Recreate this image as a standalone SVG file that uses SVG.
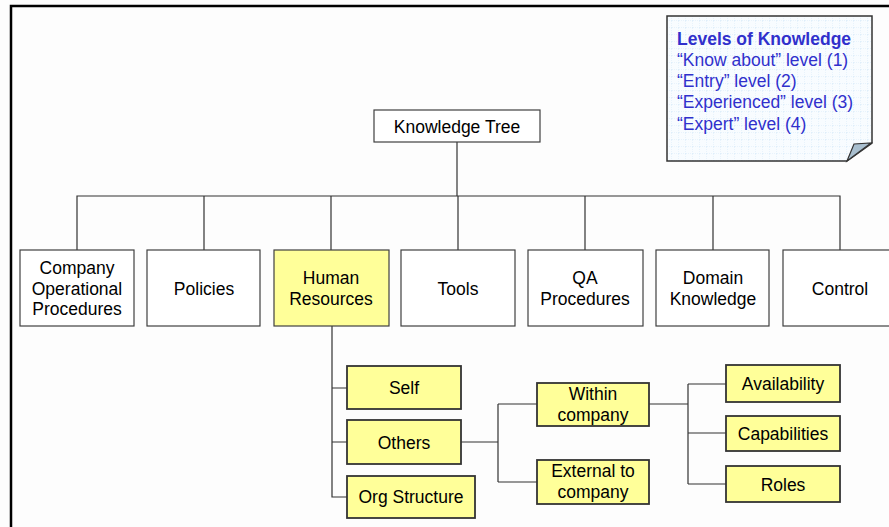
<svg xmlns="http://www.w3.org/2000/svg" width="889" height="527" viewBox="0 0 889 527">
  <style>
    .box { fill: #ffffff; stroke: #404040; stroke-width: 1.2; }
    .hi { fill: #ffff99; stroke: #404040; stroke-width: 1.2; }
    .sub { fill: #ffff99; stroke: #333333; stroke-width: 1.8; }
    .lbl { font-family: "Liberation Sans", Arial, sans-serif; font-size: 17.5px; fill: #000000; text-anchor: middle; }
    .conn { fill: none; stroke: #333333; stroke-width: 1.2; }
    .leg { font-family: "Liberation Sans", Arial, sans-serif; font-size: 17.5px; fill: #3030cc; }
  </style>
  <defs>
    <pattern id="grid" width="7" height="7" patternUnits="userSpaceOnUse">
      <rect width="7" height="7" fill="#f8fcff"/>
      <path d="M7 0 V7 M0 7 H7" fill="none" stroke="#cfe6f7" stroke-width="0.8" stroke-dasharray="1 1"/>
    </pattern>
  </defs>

  <rect width="889" height="527" fill="#fdfdfd"/>
  <!-- frame -->
  <path d="M11 527 V6 H889" fill="none" stroke="#000000" stroke-width="2.5"/>

  <!-- connectors -->
  <g id="connectors" class="conn">
    <path d="M457 142 V196"/>
    <path d="M77 250 V196 H840 V250"/>
    <path d="M204 196 V250 M331 196 V250 M458 196 V250 M585 196 V250 M713 196 V250"/>
    <path d="M332 326 V497 H347 M332 388 H347 M332 442 H347"/>
    <path d="M461 442 H498 M498 404 V482 M498 404 H537 M498 482 H537"/>
    <path d="M649 404 H688 M688 384 V484 M688 384 H726 M688 433 H726 M688 484 H726"/>
  </g>

  <!-- legend -->
  <g id="legend">
    <path d="M667 16 H872 V143 L847 161 H667 Z" fill="url(#grid)" stroke="#333333" stroke-width="1.5"/>
    <path d="M847 161 L854 144 L871 143 Z" fill="#a9bfcf" stroke="#333333" stroke-width="1.2"/>
    <text class="leg" x="677" y="45" font-weight="bold">Levels of Knowledge</text>
    <text class="leg" x="677" y="66">“Know about” level (1)</text>
    <text class="leg" x="677" y="87">“Entry” level (2)</text>
    <text class="leg" x="677" y="108">“Experienced” level (3)</text>
    <text class="leg" x="677" y="130">“Expert” level (4)</text>
  </g>

  <g id="root">
    <rect class="box" x="374" y="110" width="166" height="32"/>
    <text class="lbl" x="457" y="133">Knowledge Tree</text>
  </g>

  <g id="company-op">
    <rect class="box" x="20" y="250" width="114" height="76"/>
    <text class="lbl" x="77" y="274">Company</text>
    <text class="lbl" x="77" y="295">Operational</text>
    <text class="lbl" x="77" y="315">Procedures</text>
  </g>
  <g id="policies">
    <rect class="box" x="147" y="250" width="113" height="76"/>
    <text class="lbl" x="204" y="295">Policies</text>
  </g>
  <g id="human-resources">
    <rect class="hi" x="274" y="250" width="115" height="76"/>
    <text class="lbl" x="331" y="284">Human</text>
    <text class="lbl" x="331" y="305">Resources</text>
  </g>
  <g id="tools">
    <rect class="box" x="401" y="250" width="114" height="76"/>
    <text class="lbl" x="458" y="295">Tools</text>
  </g>
  <g id="qa">
    <rect class="box" x="528" y="250" width="115" height="76"/>
    <text class="lbl" x="585" y="284">QA</text>
    <text class="lbl" x="585" y="305">Procedures</text>
  </g>
  <g id="domain">
    <rect class="box" x="656" y="250" width="113" height="76"/>
    <text class="lbl" x="713" y="284">Domain</text>
    <text class="lbl" x="713" y="305">Knowledge</text>
  </g>
  <g id="control">
    <rect class="box" x="783" y="250" width="110" height="76"/>
    <text class="lbl" x="840" y="295">Control</text>
  </g>

  <g id="self">
    <rect class="sub" x="347" y="366" width="114" height="43"/>
    <text class="lbl" x="404" y="394">Self</text>
  </g>
  <g id="others">
    <rect class="sub" x="347" y="420" width="114" height="44"/>
    <text class="lbl" x="404" y="449">Others</text>
  </g>
  <g id="org-structure">
    <rect class="sub" x="347" y="476" width="128" height="42"/>
    <text class="lbl" x="411" y="503">Org Structure</text>
  </g>
  <g id="within">
    <rect class="sub" x="537" y="383" width="112" height="43"/>
    <text class="lbl" x="593" y="400">Within</text>
    <text class="lbl" x="593" y="421">company</text>
  </g>
  <g id="external">
    <rect class="sub" x="537" y="460" width="112" height="44"/>
    <text class="lbl" x="593" y="477">External to</text>
    <text class="lbl" x="593" y="498">company</text>
  </g>
  <g id="availability">
    <rect class="sub" x="726" y="365" width="114" height="37"/>
    <text class="lbl" x="783" y="390">Availability</text>
  </g>
  <g id="capabilities">
    <rect class="sub" x="726" y="416" width="114" height="35"/>
    <text class="lbl" x="783" y="440">Capabilities</text>
  </g>
  <g id="roles">
    <rect class="sub" x="726" y="466" width="114" height="36"/>
    <text class="lbl" x="783" y="491">Roles</text>
  </g>
</svg>
